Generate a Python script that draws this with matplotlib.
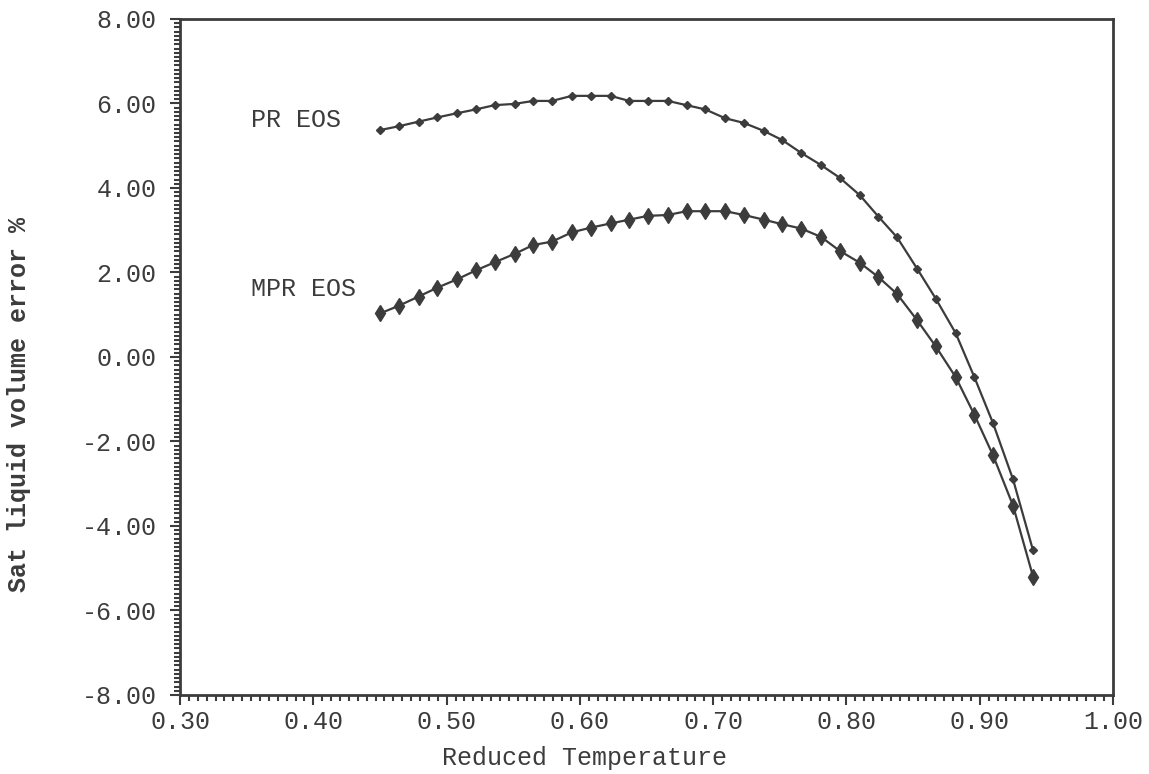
import matplotlib
matplotlib.use("Agg")
import matplotlib.pyplot as plt
from matplotlib.ticker import MultipleLocator, FormatStrFormatter

# reduced temperature of each computed point
tr = [0.450, 0.464, 0.479, 0.493, 0.508, 0.522, 0.536, 0.551, 0.565, 0.579,
      0.594, 0.608, 0.623, 0.637, 0.651, 0.666, 0.680, 0.694, 0.709, 0.723,
      0.738, 0.752, 0.766, 0.781, 0.795, 0.810, 0.824, 0.838, 0.853, 0.867,
      0.882, 0.896, 0.910, 0.925, 0.940]

# saturated liquid volume error, %
pr_err = [5.37, 5.46, 5.57, 5.67, 5.77, 5.86, 5.96, 5.99, 6.06, 6.06,
          6.18, 6.18, 6.18, 6.06, 6.06, 6.06, 5.96, 5.86, 5.65, 5.54,
          5.35, 5.13, 4.83, 4.54, 4.24, 3.83, 3.32, 2.83, 2.09, 1.38,
          0.56, -0.48, -1.57, -2.90, -4.58]
mpr_err = [1.03, 1.21, 1.43, 1.64, 1.84, 2.05, 2.24, 2.44, 2.65, 2.73,
           2.95, 3.06, 3.16, 3.25, 3.34, 3.36, 3.45, 3.45, 3.45, 3.36,
           3.25, 3.14, 3.04, 2.84, 2.51, 2.23, 1.89, 1.49, 0.87, 0.25,
           -0.48, -1.37, -2.33, -3.52, -5.20]

ink = '#3c3c3c'
mono = 'Liberation Mono'

fig = plt.figure(figsize=(11.49, 7.74), dpi=100)
ax = fig.add_axes((0.1567, 0.1021, 0.8120, 0.8734))

ax.plot(tr, pr_err, color=ink, lw=1.6, marker='D', ms=4.5, mfc=ink, mec=ink)
ax.plot(tr, mpr_err, color=ink, lw=1.6, marker='d', ms=8.5, mfc=ink, mec=ink)

ax.text(0.3535, 5.62, 'PR EOS', family=mono, fontsize=18, color=ink, va='center')
ax.text(0.3535, 1.60, 'MPR EOS', family=mono, fontsize=18, color=ink, va='center')

ax.set_xlim(0.30, 1.00)
ax.set_ylim(-8.0, 8.0)
ax.xaxis.set_major_locator(MultipleLocator(0.1))
ax.xaxis.set_minor_locator(MultipleLocator(0.1 / 15))
ax.yaxis.set_major_locator(MultipleLocator(2.0))
ax.yaxis.set_minor_locator(MultipleLocator(0.1))
ax.xaxis.set_major_formatter(FormatStrFormatter('%.2f'))
ax.yaxis.set_major_formatter(FormatStrFormatter('%.2f'))

ax.tick_params(which='both', direction='out', color=ink, width=1.5,
               top=False, right=False, labelcolor=ink)
ax.tick_params(which='major', length=7)
ax.tick_params(which='minor', length=4)
ax.tick_params(axis='y', which='major', pad=10)
ax.tick_params(axis='x', which='major', pad=4)
for lab in ax.get_xticklabels() + ax.get_yticklabels():
    lab.set_family(mono)
    lab.set_fontsize(18)

for side in ['left', 'bottom', 'top', 'right']:
    ax.spines[side].set_color(ink)
    ax.spines[side].set_linewidth(2.0)

ax.set_xlabel('Reduced Temperature', family=mono, fontsize=18, color=ink)
ax.xaxis.set_label_coords(0.433, -0.075)
ax.set_ylabel('Sat liquid volume error %', family=mono, fontsize=18,
              color=ink, weight='bold')
ax.yaxis.set_label_coords(-0.160, 0.43)

fig.savefig('out.png', dpi=100, facecolor='white')
